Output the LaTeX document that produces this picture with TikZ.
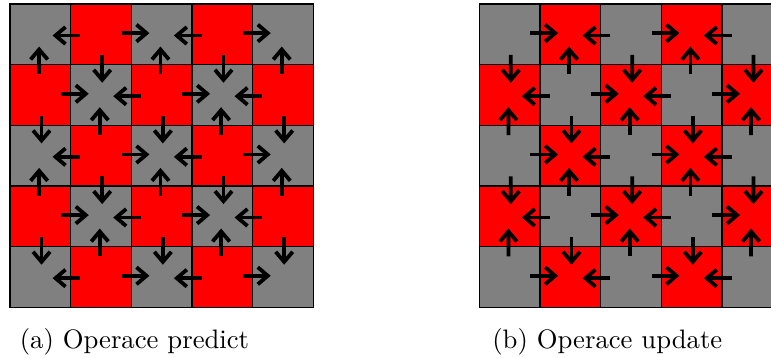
\documentclass[tikz,border=0pt]{standalone}
\usepackage{graphicx}
\usetikzlibrary{calc}

% cell colours indexed by the parity of row+column
\colorlet{cellcol0}{gray}
\colorlet{cellcol1}{red}

\tikzset{
  cell/.style={draw=black, line width=1.3pt, inner sep=0pt, outer sep=0pt,
               minimum size=60.66pt},
  flowshaft/.style={line width=3.8pt, line cap=butt},
  flowhead/.style={line width=3.8pt, line cap=butt, line join=miter, miter limit=10},
  caption/.style={anchor=base west, inner sep=0pt, outer sep=0pt},
}

% arrow from the centre line of cell #1 into cell #2, shifted slightly to its left:
% a thick shaft ending in an open chevron head
\newcommand\flowarrow[2]{%
  \path ($(#1)!0.34!(#2)!1.2pt!90:(#2)$) coordinate (fs)
        ($(#1)!0.75!(#2)!1.2pt!90:(#2)$) coordinate (fv);
  \draw[flowshaft] (fs) -- ($(fv)!1.5pt!(fs)$);
  \draw[flowhead] ($(fv)!10pt!(fs)!8.5pt!90:(fs)$) -- (fv) -- ($(fv)!10pt!(fs)!8.5pt!-90:(fs)$);%
}

\begin{document}
\begin{tikzpicture}[x=1pt,y=-1pt]
  \useasboundingbox (0,0) rectangle (771,358);
  \clip (0,0) rectangle (771,358);

  % two 5x5 checkerboards: p = predict, u = update
  \foreach \r in {0,...,4}
    \foreach \c in {0,...,4} {
      \pgfmathtruncatemacro\k{mod(\r+\c,2)}
      \node[cell, fill=cellcol\k] (p-\r-\c) at ({10+60.66*(\c+0.5)}, {4+60.66*(\r+0.5)}) {};
      \node[cell, fill=cellcol\k] (u-\r-\c) at ({479.3+60.66*(\c+0.5)}, {4+60.66*(\r+0.5)}) {};
    }

  % horizontal neighbours: predict flows red -> gray, update flows gray -> red
  \foreach \r in {0,...,4}
    \foreach \c in {0,...,3} {
      \pgfmathtruncatemacro\d{\c+1}
      \pgfmathtruncatemacro\k{mod(\r+\c,2)}
      \ifnum\k=1
        \flowarrow{p-\r-\c}{p-\r-\d}
        \flowarrow{u-\r-\d}{u-\r-\c}
      \else
        \flowarrow{p-\r-\d}{p-\r-\c}
        \flowarrow{u-\r-\c}{u-\r-\d}
      \fi
    }

  % vertical neighbours
  \foreach \c in {0,...,4}
    \foreach \r in {0,...,3} {
      \pgfmathtruncatemacro\s{\r+1}
      \pgfmathtruncatemacro\k{mod(\r+\c,2)}
      \ifnum\k=1
        \flowarrow{p-\r-\c}{p-\s-\c}
        \flowarrow{u-\s-\c}{u-\r-\c}
      \else
        \flowarrow{p-\s-\c}{p-\r-\c}
        \flowarrow{u-\r-\c}{u-\s-\c}
      \fi
    }

  \node[caption] (capa) at (19.8, 348) {\scalebox{2.67}{(a) Operace predict}};
  \node[caption] (capb) at (492.3, 348) {\scalebox{2.67}{(b) Operace update}};
\end{tikzpicture}
\end{document}
